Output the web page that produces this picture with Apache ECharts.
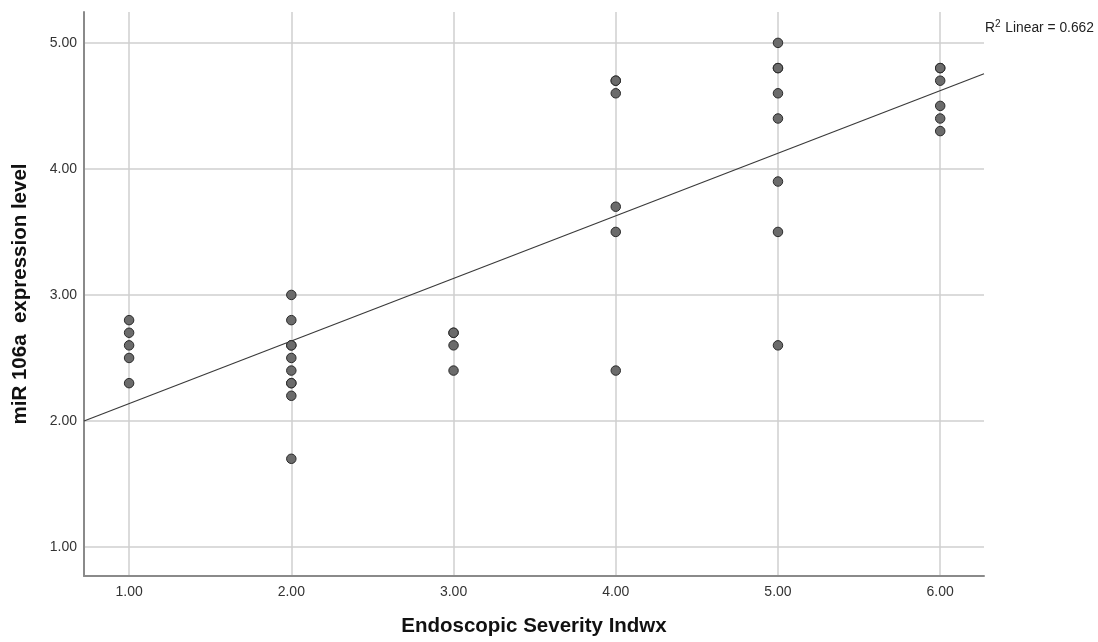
<!DOCTYPE html>
<html>
<head>
<meta charset="utf-8">
<script src="https://cdn.jsdelivr.net/npm/echarts@6/dist/echarts.min.js"></script>
<style>
  html, body { margin: 0; padding: 0; background: #fff; }
  #chart { width: 1098px; height: 642px; }
</style>
</head>
<body>
<div id="chart"></div>
<script>
// points, one array per severity group
const severity = [1, 2, 3, 4, 5, 6];
const group1 = [2.8, 2.7, 2.6, 2.5, 2.3];
const group2 = [3.0, 2.8, 2.6, 2.6, 2.5, 2.4, 2.3, 2.3, 2.2, 1.7];
const group3 = [2.7, 2.7, 2.6, 2.4];
const group4 = [4.7, 4.7, 4.6, 3.7, 3.5, 2.4];
const group5 = [5.0, 4.8, 4.8, 4.6, 4.4, 3.9, 3.5, 2.6];
const group6 = [4.8, 4.8, 4.7, 4.5, 4.4, 4.3];

// fit line (as drawn) and its label
const fitIntercept = 1.641;
const fitSlope = 0.4966;
const r2Text = '0.662';

const xRange = [0.722, 6.27];
const yRange = [0.77, 5.245];

const groups = [group1, group2, group3, group4, group5, group6];
let points = [];
for (let i = 0; i < groups.length; i++) {
  for (let j = 0; j < groups[i].length; j++) {
    points.push([severity[i], groups[i][j]]);
  }
}
const fitLine = xRange.map(x => [x, fitIntercept + fitSlope * x]);

const isWhole = v => Math.abs(v - Math.round(v)) < 1e-6;
const font = 'Liberation Sans, Arial, sans-serif';

const myChart = echarts.init(document.getElementById('chart'));
const option = {
  animation: false,
  textStyle: { fontFamily: font },
  grid: { left: 84, right: 114, top: 12, bottom: 65 },
  xAxis: {
    type: 'value',
    min: xRange[0],
    max: xRange[1],
    splitNumber: 6,
    minInterval: 1,
    maxInterval: 1,
    name: 'Endoscopic Severity Indwx',
    nameLocation: 'middle',
    nameGap: 40,
    nameTextStyle: { fontSize: 20.5, fontWeight: 'bold', color: '#111' },
    axisLine: { show: true, lineStyle: { color: '#8a8a8a', width: 2 } },
    axisTick: { show: false },
    axisLabel: {
      margin: 9,
      fontSize: 14,
      color: '#333',
      showMinLabel: false,
      showMaxLabel: false,
      formatter: v => (isWhole(v) ? v.toFixed(2) : '')
    },
    splitLine: {
      show: true,
      showMinLine: false,
      showMaxLine: false,
      lineStyle: { color: '#cfcfcf', width: 1.5 }
    }
  },
  yAxis: {
    type: 'value',
    min: yRange[0],
    max: yRange[1],
    splitNumber: 4,
    minInterval: 1,
    maxInterval: 1,
    name: 'miR 106a  expression level',
    nameLocation: 'middle',
    nameGap: 53,
    nameTextStyle: { fontSize: 20.5, fontWeight: 'bold', color: '#111' },
    axisLine: { show: true, lineStyle: { color: '#8a8a8a', width: 2 } },
    axisTick: { show: false },
    axisLabel: {
      margin: 7,
      fontSize: 14,
      color: '#333',
      showMinLabel: false,
      showMaxLabel: false,
      formatter: v => (isWhole(v) ? v.toFixed(2) : '')
    },
    splitLine: {
      show: true,
      showMinLine: false,
      showMaxLine: false,
      lineStyle: { color: '#cfcfcf', width: 1.5 }
    }
  },
  graphic: [
    {
      type: 'text',
      left: 985,
      top: 19,
      style: {
        text: '{a|R}{s|2}{a| Linear = ' + r2Text + '}',
        rich: {
          a: { fontSize: 13.8, fill: '#222', fontFamily: font, lineHeight: 16, verticalAlign: 'bottom' },
          s: { fontSize: 10, fill: '#222', fontFamily: font, lineHeight: 16, verticalAlign: 'top', padding: [0, 1, 7, 0] }
        }
      }
    }
  ],
  series: [
    {
      type: 'line',
      data: fitLine,
      showSymbol: false,
      silent: true,
      lineStyle: { color: '#3a3a3a', width: 1.2 },
      z: 2
    },
    {
      type: 'scatter',
      data: points,
      symbolSize: 9.5,
      itemStyle: { color: '#6b6b6b', borderColor: '#2a2a2a', borderWidth: 1, opacity: 1 },
      z: 3
    }
  ]
};
myChart.setOption(option);
</script>
</body>
</html>
